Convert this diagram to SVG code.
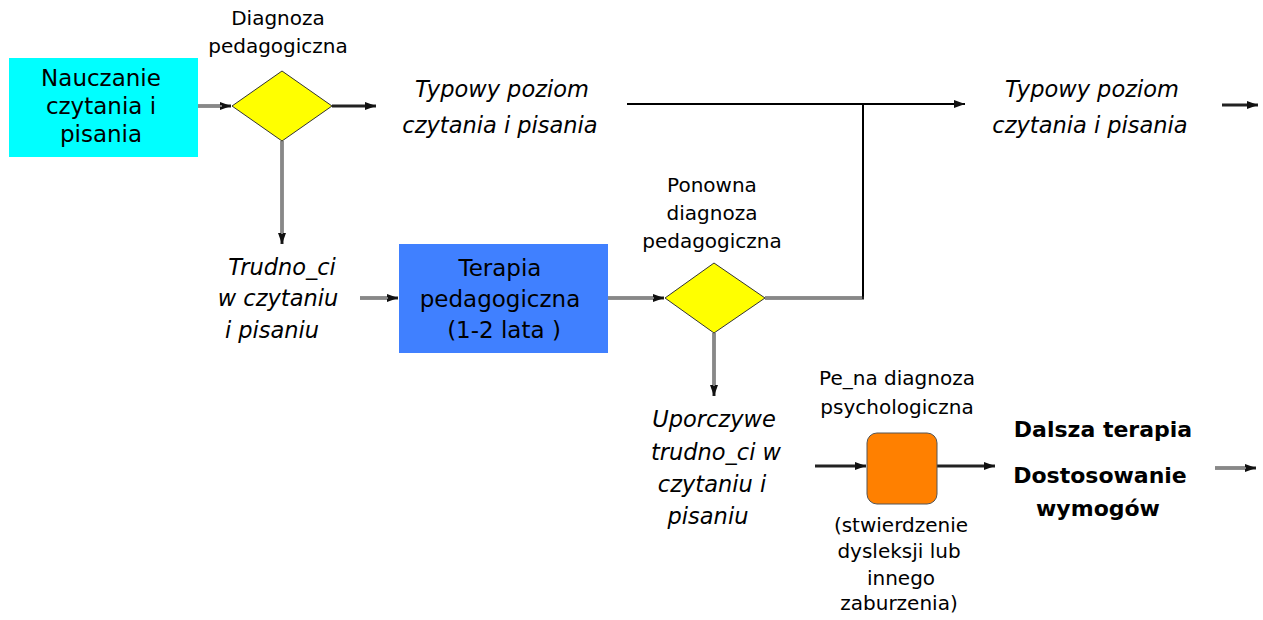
<svg xmlns="http://www.w3.org/2000/svg" width="1263" height="620" viewBox="0 0 1263 620">
<style>
text{font-family:"DejaVu Sans","Liberation Sans",sans-serif;fill:#000;text-anchor:middle}
.lbl{font-size:20px}
.big{font-size:23px}
.it{font-style:italic;font-size:22.5px}
.bold{font-weight:bold;font-size:22px}
.dia{fill:#FFFF00;stroke:#333;stroke-width:1}
.outer{fill:none;stroke:#222;stroke-width:3}
.inner{fill:none;stroke:#eee;stroke-width:1}
.solid{fill:none;stroke:#000;stroke-width:2}
</style>
<defs>
<marker id="ah" markerUnits="userSpaceOnUse" markerWidth="12" markerHeight="10" refX="11" refY="5" orient="auto">
<path d="M0,1 L11,5 L0,9 Z" fill="#111"/>
</marker>
</defs>
<g id="connectors">
<path class="outer" d="M197,106 H231" marker-end="url(#ah)"/>
<path class="inner" d="M197,106 H222"/>
<path class="outer" d="M332,106 H376" marker-end="url(#ah)"/>
<path class="outer" d="M282,141 V244" marker-end="url(#ah)"/>
<path class="inner" d="M282,141 V234"/>
<path class="solid" d="M627,104 H965" marker-end="url(#ah)"/>
<path class="solid" d="M863,104 V299"/>
<path class="outer" d="M765,298 H864"/>
<path class="inner" d="M765,298 H862"/>
<path class="outer" d="M1222,105 H1258" marker-end="url(#ah)"/>
<path class="outer" d="M360,298 H398" marker-end="url(#ah)"/>
<path class="inner" d="M360,298 H388"/>
<path class="outer" d="M608,298 H664" marker-end="url(#ah)"/>
<path class="inner" d="M608,298 H654"/>
<path class="outer" d="M714,333 V396" marker-end="url(#ah)"/>
<path class="inner" d="M714,333 V386"/>
<path class="outer" d="M815,466 H866" marker-end="url(#ah)"/>
<path class="outer" d="M937,466 H995" marker-end="url(#ah)"/>
<path class="outer" d="M1215,468 H1256" marker-end="url(#ah)"/>
<path class="inner" d="M1215,468 H1246"/>
</g>
<g id="nauczanie">
<rect x="9" y="58" width="189" height="99" fill="#00FFFF"/>
<text class="big" x="101" y="86">Nauczanie</text>
<text class="big" x="101" y="114">czytania i</text>
<text class="big" x="101" y="142">pisania</text>
</g>
<g id="diagnoza">
<path class="dia" d="M232,106 L282,71 L332,106 L282,141 Z"/>
<text class="lbl" x="278" y="25">Diagnoza</text>
<text class="lbl" x="278" y="53">pedagogiczna</text>
</g>
<g id="typowy1">
<text class="it" x="502" y="97">Typowy  poziom</text>
<text class="it" x="500" y="133">czytania  i pisania</text>
</g>
<g id="typowy2">
<text class="it" x="1092" y="97">Typowy  poziom</text>
<text class="it" x="1090" y="133">czytania  i pisania</text>
</g>
<g id="trudnosci">
<text class="it" x="282" y="275">Trudno_ci</text>
<text class="it" x="278" y="306">w czytaniu</text>
<text class="it" x="272" y="338">i pisaniu</text>
</g>
<g id="terapia">
<rect x="399" y="244" width="209" height="109" fill="#4080FF"/>
<text class="big" x="500" y="276">Terapia</text>
<text class="big" x="500" y="307">pedagogiczna</text>
<text class="big" x="504" y="338">(1-2 lata )</text>
</g>
<g id="ponowna">
<path class="dia" d="M665,298 L714,263 L765,298 L714,333 Z"/>
<text class="lbl" x="712" y="192">Ponowna</text>
<text class="lbl" x="712" y="220">diagnoza</text>
<text class="lbl" x="712" y="248">pedagogiczna</text>
</g>
<g id="uporczywe">
<text class="it" x="714" y="427">Uporczywe</text>
<text class="it" x="716" y="460">trudno_ci w</text>
<text class="it" x="712" y="492">czytaniu i</text>
<text class="it" x="708" y="524">pisaniu</text>
</g>
<g id="psychologiczna">
<rect x="867" y="433" width="70" height="71" rx="10" fill="#FF8000" stroke="#555" stroke-width="1"/>
<text class="lbl" x="897" y="385">Pe_na diagnoza</text>
<text class="lbl" x="897" y="414">psychologiczna</text>
<text class="lbl" x="901" y="532">(stwierdzenie</text>
<text class="lbl" x="899" y="558">dysleksji lub</text>
<text class="lbl" x="901" y="585">innego</text>
<text class="lbl" x="899" y="610">zaburzenia)</text>
</g>
<g id="dalsza">
<text class="bold" x="1103" y="437">Dalsza  terapia</text>
<text class="bold" x="1100" y="483">Dostosowanie</text>
<text class="bold" x="1098" y="516">wymogów</text>
</g>
</svg>
